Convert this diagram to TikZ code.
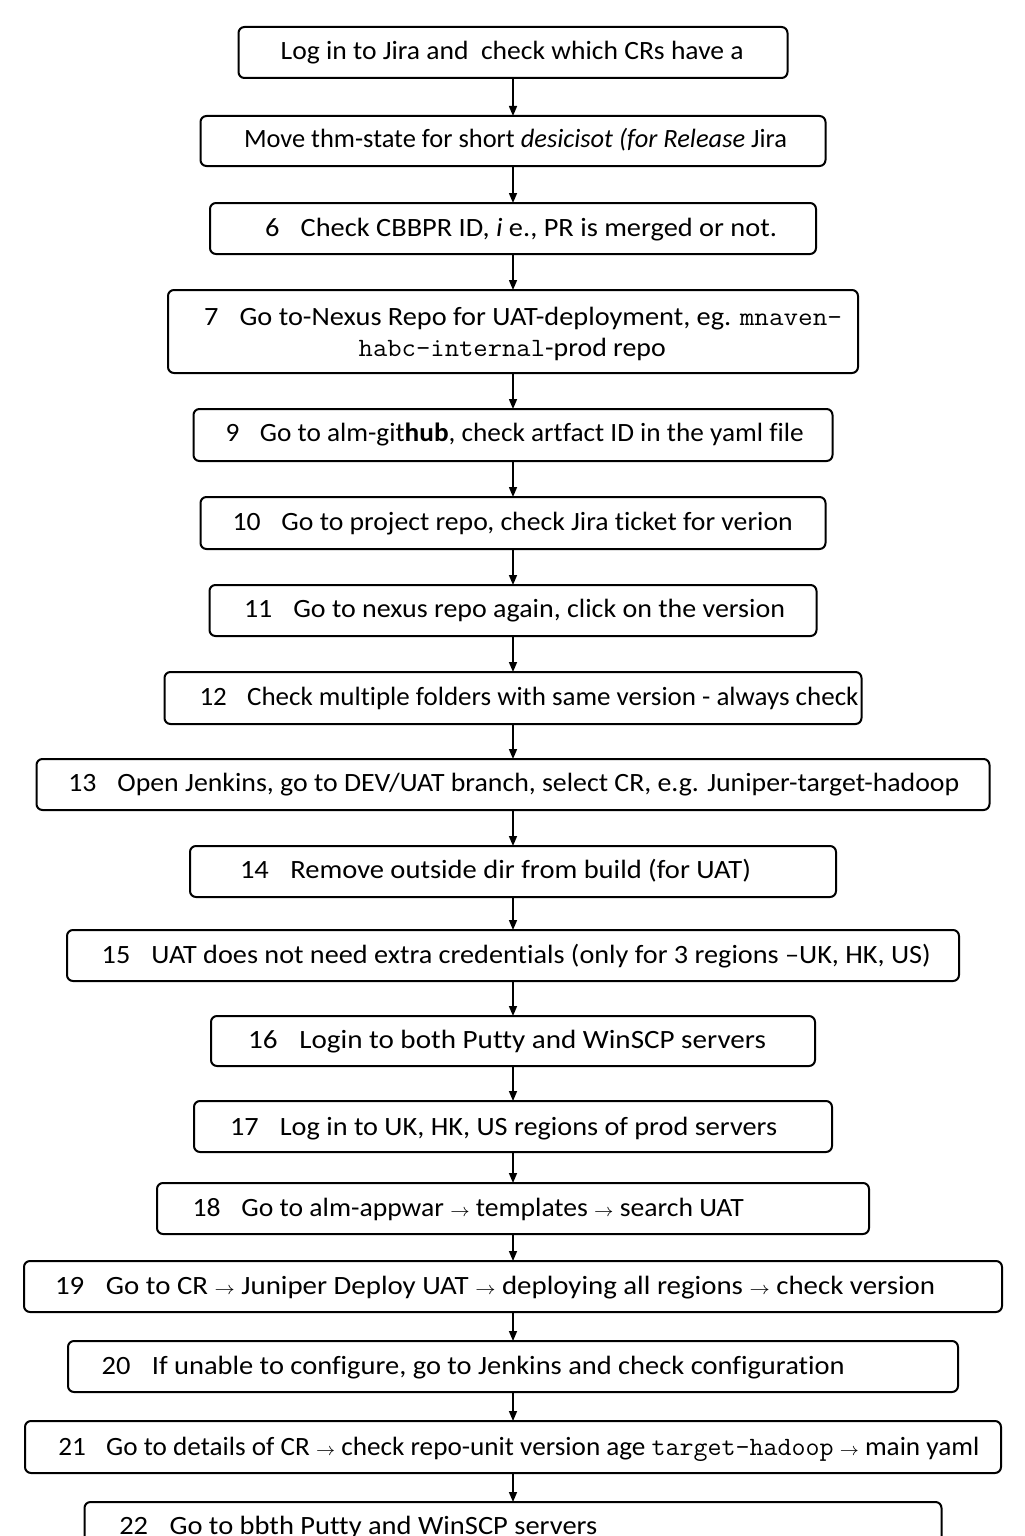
\documentclass[tikz,border=0pt]{standalone}
\usepackage{fontspec}
\setmainfont{Carlito}[Ligatures={TeX,NoCommon}]
\usepackage{graphicx}
\usetikzlibrary{arrows.meta}
\newsavebox\fitbox
\newcommand\fitw[2]{\sbox\fitbox{#2}\pgfmathsetmacro\fitfac{#1*0.5/\the\wd\fitbox}\scalebox{\fitfac}[1]{\usebox\fitbox}}
\newcommand\nsp{\hspace{0.75em}}
\newcommand\ra{$\scriptstyle\rightarrow$}
\begin{document}
\begin{tikzpicture}[x=0.5pt,y=-0.5pt,
  box/.style={draw, line width=1pt, rounded corners=3pt, inner sep=0pt, outer sep=0pt},
  txt/.style={anchor=west, inner sep=0pt, outer sep=0pt, text height=8.5pt, text depth=0pt, font=\fontsize{13.2}{16}\selectfont},
  arr/.style={-{Triangle[length=5pt,width=4pt]}, line width=0.75pt}]
\useasboundingbox (0,0) rectangle (1024,1536);
\clip (0,0) rectangle (1024,1536);
\newcommand\bx[4]{\node[box, minimum width=#4*0.5pt, minimum height=(#3-#2)*0.5pt] (#1) at (513,{(#2+#3)/2}) {};}
\newcommand\tx[5]{\node[txt] (#1) at (#2,#3) {\fitw{#4}{#5}};}
% boxes
\bx{b1}{27}{78}{549}
\bx{b2}{116}{166}{625}
\bx{b3}{203}{254}{606}
\bx{b4}{290}{373}{690}
\bx{b5}{409}{461}{639}
\bx{b6}{497}{549}{625}
\bx{b7}{585}{636}{607}
\bx{b8}{672}{724}{697}
\bx{b9}{759}{810}{953}
\bx{b10}{846}{897}{646}
\bx{b11}{930}{981}{892}
\bx{b12}{1016}{1066}{604}
\bx{b13}{1101}{1152}{638}
\bx{b14}{1183}{1234}{712}
\bx{b15}{1261}{1312}{978}
\bx{b16}{1341}{1392}{890}
\bx{b17}{1421}{1473}{976}
\bx{b18}{1502}{1553}{857}
% texts
\tx{t1}{280.7}{51}{463}{Log in to Jira and\ \ check which CRs have a}
\tx{t2}{244}{139}{543}{Move thm-state for short \textit{desicisot (for Release} Jira}
\tx{t3}{265}{228}{512}{6\nsp Check CBBPR ID, \textit{i} e., PR is merged or not.}
\tx{t4a}{204}{316.5}{638}{7\nsp Go to-Nexus Repo for UAT-deployment, eg. {\ttfamily mnaven-}}
\tx{t4b}{358.7}{348}{307}{{\ttfamily habc-internal}-prod repo}
\tx{t5}{225.7}{433}{578}{9\nsp Go to alm-git\textbf{hub}, check artfact ID in the yaml file}
\tx{t6}{232.6}{521.7}{560}{10\nsp Go to project repo, check Jira ticket for verion}
\tx{t7}{244}{609}{541}{11\nsp Go to nexus repo again, click on the version}
\tx{t8}{199.5}{696.7}{659}{12\nsp Check multiple folders with same version - always check}
\tx{t9}{68.3}{783}{891}{13\nsp Open Jenkins, go to DEV/UAT branch, select CR, e.g. Juniper-target-hadoop}
\tx{t10}{240}{870}{511}{14\nsp Remove outside dir from build (for UAT)}
\tx{t11}{101.7}{955}{829}{15\nsp UAT does not need extra credentials (only for 3 regions --UK, HK, US)}
\tx{t12}{248}{1040}{518}{16\nsp Login to both Putty and WinSCP servers}
\tx{t13}{230}{1126.5}{547}{17\nsp Log in to UK, HK, US regions of prod servers}
\tx{t14}{192.7}{1208}{551}{18\nsp Go to alm-appwar \ra\ templates \ra\ search UAT}
\tx{t15}{55}{1286}{880}{19\nsp Go to CR \ra\ Juniper Deploy UAT \ra\ deploying all regions \ra\ check version}
\tx{t16}{101.7}{1366}{743}{20\nsp If unable to configure, go to Jenkins and check configuration}
\tx{t17}{58.3}{1446.5}{921}{21\nsp Go to details of CR \ra\ check repo-unit version age {\ttfamily target-hadoop} \ra\ main yaml}
\tx{t18}{119.3}{1526}{478}{22\nsp Go to bbth Putty and WinSCP servers}
% connectors
\foreach \a/\b in {b1/b2,b2/b3,b3/b4,b4/b5,b5/b6,b6/b7,b7/b8,b8/b9,b9/b10,b10/b11,b11/b12,b12/b13,b13/b14,b14/b15,b15/b16,b16/b17,b17/b18}
  \draw[arr] (\a.south) -- (\b.north);
\end{tikzpicture}
\end{document}
